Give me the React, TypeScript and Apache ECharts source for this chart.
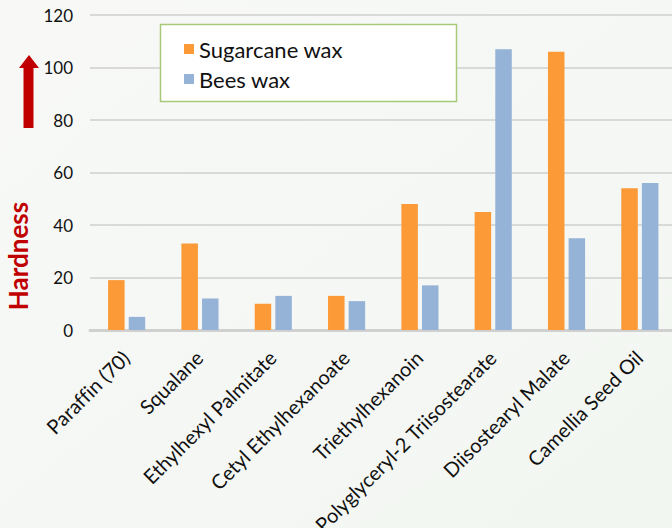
import React, { useEffect, useRef } from "react";
import * as echarts from "echarts";

const categories = [
  "Paraffin (70)",
  "Squalane",
  "Ethylhexyl Palmitate",
  "Cetyl Ethylhexanoate",
  "Triethylhexanoin",
  "Polyglyceryl-2 Triisostearate",
  "Diisostearyl Malate",
  "Camellia Seed Oil",
];
const seriesNames = ["Sugarcane wax", "Bees wax"];
const sugarcaneWax = [19, 33, 10, 13, 48, 45, 106, 54];
const beesWax = [5, 12, 13, 11, 17, 107, 35, 56];
const yMin = 0;
const yMax = 120;
const yInterval = 20;
const yAxisTitle = "Hardness";

const FONT = "Lato, 'Open Sans', sans-serif";

export default function App() {
  const ref = useRef<HTMLDivElement>(null);
  useEffect(() => {
    if (!ref.current) return;
    const chart = echarts.init(ref.current, undefined, { renderer: "svg" });
    const top = 15;
    const height = 315;
    chart.setOption({
      animation: false,
      backgroundColor: {
        type: "linear",
        x: 0,
        y: 0,
        x2: 1,
        y2: 1,
        colorStops: [
          { offset: 0, color: "#F8F9F7" },
          { offset: 1, color: "#F2F6F1" },
        ],
      },
      textStyle: { fontFamily: FONT },
      grid: [
        { left: 90, right: 0, top, height, outerBoundsMode: "none", containLabel: false },
        { left: 90, right: -4.5, top, height, outerBoundsMode: "none", containLabel: false },
        { left: 89, right: -3.5, top, height, outerBoundsMode: "none", containLabel: false },
      ],
      xAxis: [
        {
          gridIndex: 0,
          type: "value",
          min: 0,
          max: 1,
          axisLine: { show: true, onZero: true, lineStyle: { color: "#D0D0D0", width: 3 } },
          axisTick: { show: false },
          axisLabel: { show: false },
          splitLine: { show: false },
        },
        { gridIndex: 1, type: "category", data: categories, show: false },
        {
          gridIndex: 2,
          type: "category",
          data: categories,
          axisLine: { show: false },
          axisTick: { show: false },
          splitLine: { show: false },
          axisLabel: {
            interval: 0,
            rotate: 45,
            margin: 24,
            fontSize: 20,
            color: "#111",
            fontFamily: FONT,
          },
        },
      ],
      yAxis: [
        {
          gridIndex: 0,
          type: "value",
          min: yMin,
          max: yMax,
          interval: yInterval,
          axisLine: { show: false },
          axisTick: { show: false },
          axisLabel: { fontSize: 17, margin: 17, color: "#111", fontFamily: FONT },
          splitLine: { lineStyle: { color: "#D9D9D9", width: 2 } },
        },
        { gridIndex: 1, type: "value", min: yMin, max: yMax, show: false, splitLine: { show: false } },
        { gridIndex: 2, type: "value", min: yMin, max: yMax, show: false, splitLine: { show: false } },
      ],
      legend: {
        data: seriesNames,
        orient: "vertical",
        left: 179,
        top: 33,
        icon: "rect",
        itemWidth: 10,
        itemHeight: 10,
        itemGap: 8,
        z: 10,
        textStyle: { fontSize: 22, lineHeight: 21, color: "#111", fontFamily: FONT },
      },
      graphic: [
        {
          type: "rect",
          z: 5,
          shape: { x: 160.5, y: 24.5, width: 296, height: 77 },
          style: { fill: "#FFFFFF", stroke: "#A9C97A", lineWidth: 1.5 },
        },
        {
          type: "polygon",
          z: 5,
          shape: {
            points: [
              [19, 68],
              [29, 55],
              [39, 68],
              [33.5, 68],
              [33.5, 128],
              [23.5, 128],
              [23.5, 68],
            ],
          },
          style: { fill: "#C00000" },
        },
        {
          type: "text",
          z: 5,
          x: 18,
          y: 256,
          rotation: Math.PI / 2,
          style: {
            text: yAxisTitle,
            fill: "#C00000",
            font: `bold 26px ${FONT}`,
            align: "center",
            verticalAlign: "middle",
          },
        },
      ],
      series: [
        {
          name: seriesNames[0],
          type: "bar",
          xAxisIndex: 1,
          yAxisIndex: 1,
          data: sugarcaneWax,
          barWidth: 16.5,
          barGap: "25%",
          itemStyle: { color: "#FB9A36" },
        },
        {
          name: seriesNames[1],
          type: "bar",
          xAxisIndex: 1,
          yAxisIndex: 1,
          data: beesWax,
          barWidth: 16.5,
          barGap: "25%",
          itemStyle: { color: "#95B3D7" },
        },
      ],
    });
    return () => chart.dispose();
  }, []);
  return (
    <div
      ref={ref}
      style={{
        position: "fixed",
        left: 0,
        top: 0,
        width: 672,
        height: 528,
        fontVariantLigatures: "none",
      }}
    />
  );
}
